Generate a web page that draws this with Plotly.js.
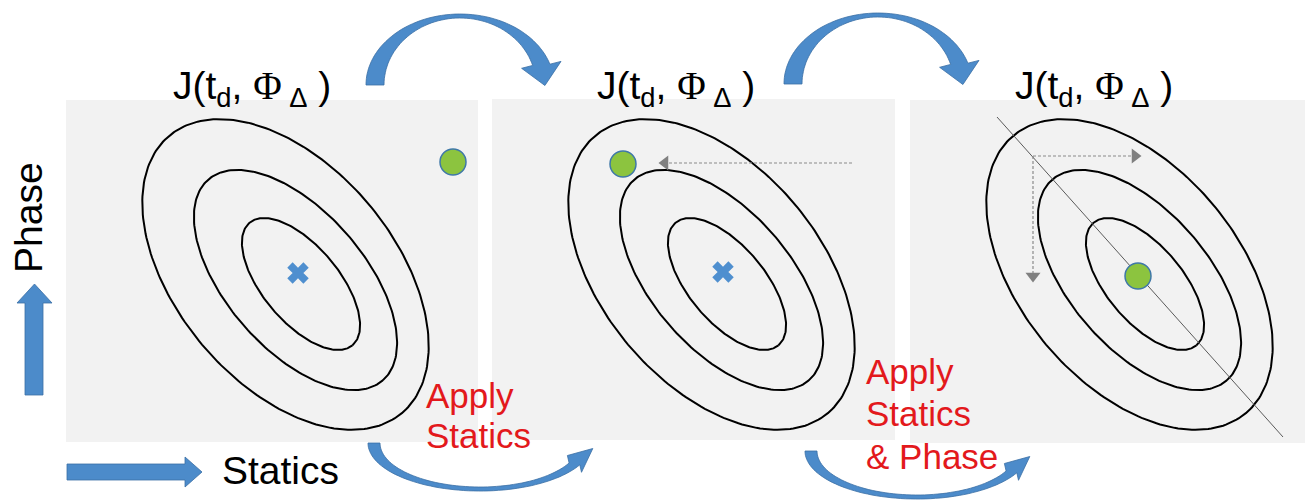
<!DOCTYPE html>
<html>
<head>
<meta charset="utf-8">
<script src="https://cdn.plot.ly/plotly-3.0.1.min.js"></script>
<style>html,body{margin:0;padding:0;background:#fff;}#chart{width:1315px;height:501px;}</style>
</head>
<body>
<div id="chart"></div>
<script>
// ---- diagram content ----
const NB = "\u00A0";
const titleText = "J(t<sub>d</sub>," + NB + "<span style='font-family:Liberation Serif'>Φ</span><sub>" + NB + "Δ</sub>" + NB + ")";
const panelTitles = [titleText, titleText, titleText];
const axisLabels = ["Phase", "Statics"];
const stepLabels1 = ["Apply", "Statics"];
const stepLabels2 = ["Apply", "Statics", "& Phase"];

// contour levels (semi-axes, centres, tilt) inside one panel
const contourA = [181, 133, 80];
const contourB = [109, 69, 38];
const contourCx = [285.5, 295.5, 301];
const contourCy = [274.5, 280, 284];
const contourTilt = [50, 49, 50];
const panelShift = [0, 426, 844];

// optimum marker and current estimate per panel
const optimumX = [298, 723];
const optimumY = [273, 272];
const estimateX = [453, 623, 1138];
const estimateY = [162, 164, 276];

// panels
const panelX0 = [66, 492, 910];
const panelX1 = [478, 895, 1305];
const panelY0 = [100, 99, 100];
const panelY1 = [442, 440, 443];

// ---- build ----
const FONT = "Liberation Sans, Arial, sans-serif";
const BLUE = "#4C8BCA", BLUE_EDGE = "#3A6EA5";
const traces = [];

function ellipse(cx, cy, a, b, deg) {
  const th = deg * Math.PI / 180, xs = [], ys = [];
  for (let k = 0; k <= 240; k++) {
    const t = 2 * Math.PI * k / 240;
    const u = a * Math.cos(t), v = b * Math.sin(t);
    xs.push(cx + u * Math.cos(th) - v * Math.sin(th));
    ys.push(cy + u * Math.sin(th) + v * Math.cos(th));
  }
  return [xs, ys];
}

panelShift.forEach(function (dx) {
  contourA.forEach(function (a, i) {
    const e = ellipse(contourCx[i] + dx, contourCy[i], a, contourB[i], contourTilt[i]);
    traces.push({x: e[0], y: e[1], mode: "lines", line: {color: "#000", width: 2}, hoverinfo: "skip"});
  });
});

// panel 3 valley line
traces.push({x: [997, 1283], y: [117, 437], mode: "lines", line: {color: "#5a5a5a", width: 1}, hoverinfo: "skip"});

// dashed search arrows
const dashStyle = {color: "#8a8a8a", width: 1.2, dash: "3px,2px"};
traces.push({x: [852, 668], y: [163, 163], mode: "lines", line: dashStyle, hoverinfo: "skip"});
traces.push({x: [1033, 1133], y: [156, 156], mode: "lines", line: dashStyle, hoverinfo: "skip"});
traces.push({x: [1033, 1033], y: [156, 273], mode: "lines", line: dashStyle, hoverinfo: "skip"});
traces.push({x: [665], y: [163], mode: "markers", marker: {symbol: "triangle-left", size: 13, color: "#808080"}, hoverinfo: "skip"});
traces.push({x: [1135], y: [156], mode: "markers", marker: {symbol: "triangle-right", size: 13, color: "#808080"}, hoverinfo: "skip"});
traces.push({x: [1033], y: [276], mode: "markers", marker: {symbol: "triangle-down", size: 13, color: "#808080"}, hoverinfo: "skip"});

// optimum crosses
traces.push({x: optimumX, y: optimumY, mode: "markers",
  marker: {symbol: "x", size: 19, color: "#4F8FCF", line: {width: 0}}, hoverinfo: "skip"});
// estimates
traces.push({x: estimateX, y: estimateY, mode: "markers",
  marker: {symbol: "circle", size: 26, color: "#8CC43F", line: {color: "#3F78A8", width: 1.5}}, hoverinfo: "skip"});

// ---- shapes ----
const shapes = [];
panelX0.forEach(function (x0, i) {
  shapes.push({type: "rect", xref: "x", yref: "y", x0: x0, x1: panelX1[i], y0: panelY0[i], y1: panelY1[i],
    fillcolor: "#F2F2F2", line: {width: 0}, layer: "below"});
});

function pt(x, y) { return x.toFixed(1) + "," + y.toFixed(1); }

// curved arrow: arc band + head. sgn=-1 for over-the-top arcs, +1 for under arcs
function curvedArrow(cx, cy, rxo, ryo, rxi, ryi, tEnd, sgn, headLen, headHalf, headDir) {
  const n = 60;
  let p = "";
  for (let k = 0; k <= n; k++) {
    const t = (Math.PI - (Math.PI - tEnd) * k / n);
    p += (k === 0 ? "M" : " L") + pt(cx + rxo * Math.cos(t), cy + sgn * ryo * Math.sin(t));
  }
  const oe = [cx + rxo * Math.cos(tEnd), cy + sgn * ryo * Math.sin(tEnd)];
  const ie = [cx + rxi * Math.cos(tEnd), cy + sgn * ryi * Math.sin(tEnd)];
  const bc = [(oe[0] + ie[0]) / 2, (oe[1] + ie[1]) / 2];
  const d = headDir * Math.PI / 180;
  const dir = [Math.cos(d), Math.sin(d)], per = [-Math.sin(d), Math.cos(d)];
  const w1 = [bc[0] + per[0] * headHalf, bc[1] + per[1] * headHalf];
  const w2 = [bc[0] - per[0] * headHalf, bc[1] - per[1] * headHalf];
  const tip = [bc[0] + dir[0] * headLen, bc[1] + dir[1] * headLen];
  const dO = Math.hypot(w1[0] - oe[0], w1[1] - oe[1]), dO2 = Math.hypot(w2[0] - oe[0], w2[1] - oe[1]);
  const wa = dO < dO2 ? w1 : w2, wb = dO < dO2 ? w2 : w1;
  p += " L" + pt(wa[0], wa[1]) + " L" + pt(tip[0], tip[1]) + " L" + pt(wb[0], wb[1]) + " L" + pt(ie[0], ie[1]);
  for (let k = n; k >= 0; k--) {
    const t = (Math.PI - (Math.PI - tEnd) * k / n);
    p += " L" + pt(cx + rxi * Math.cos(t), cy + sgn * ryi * Math.sin(t));
  }
  return p + " Z";
}
const topArcs = [[460, 85], [878, 84]];
topArcs.forEach(function (c) {
  shapes.push({type: "path", xref: "x", yref: "y", fillcolor: BLUE, line: {color: BLUE_EDGE, width: 0.8},
    path: curvedArrow(c[0], c[1], 94, 71, 76, 67, 17 * Math.PI / 180, -1, 21, 20, 80)});
});
const bottomArcs = [[480, 443], [917, 451]];
bottomArcs.forEach(function (c) {
  shapes.push({type: "path", xref: "x", yref: "y", fillcolor: BLUE, line: {color: BLUE_EDGE, width: 0.8},
    path: curvedArrow(c[0], c[1], 112, 48, 100, 44, 27 * Math.PI / 180, 1, 24, 11, -40)});
});
// straight axis arrows
shapes.push({type: "path", xref: "x", yref: "y", fillcolor: BLUE, line: {color: BLUE_EDGE, width: 0.8},
  path: "M25,395 L25,303 L17,303 L34.5,284 L52,303 L43,303 L43,395 Z"});
shapes.push({type: "path", xref: "x", yref: "y", fillcolor: BLUE, line: {color: BLUE_EDGE, width: 0.8},
  path: "M67,464 L185,464 L185,457 L202,472 L185,487 L185,480 L67,480 Z"});

// ---- annotations ----
const annotations = [];
const titleX = [252, 676, 1094];
panelTitles.forEach(function (t, i) {
  annotations.push({x: titleX[i], y: 88, xref: "x", yref: "y", text: t, showarrow: false,
    xanchor: "center", yanchor: "middle", font: {family: FONT, size: 39, color: "#000"}});
});
annotations.push({x: 28, y: 218, xref: "x", yref: "y", text: axisLabels[0], textangle: -90, showarrow: false,
  xanchor: "center", yanchor: "middle", font: {family: FONT, size: 39, color: "#000"}});
annotations.push({x: 220, y: 470, xref: "x", yref: "y", text: axisLabels[1], showarrow: false,
  xanchor: "left", yanchor: "middle", font: {family: FONT, size: 39, color: "#000"}});
const step1Y = [395, 435];
stepLabels1.forEach(function (t, i) {
  annotations.push({x: 424, y: step1Y[i], xref: "x", yref: "y", text: t, showarrow: false,
    xanchor: "left", yanchor: "middle", font: {family: FONT, size: 35, color: "#E3191C"}});
});
const step2Y = [371, 413, 456];
stepLabels2.forEach(function (t, i) {
  annotations.push({x: 864, y: step2Y[i], xref: "x", yref: "y", text: t, showarrow: false,
    xanchor: "left", yanchor: "middle", font: {family: FONT, size: 35, color: "#E3191C"}});
});

const layout = {
  width: 1315, height: 501, margin: {l: 0, r: 0, t: 0, b: 0},
  paper_bgcolor: "#fff", plot_bgcolor: "#fff", showlegend: false,
  xaxis: {range: [0, 1315], visible: false, fixedrange: true},
  yaxis: {range: [501, 0], visible: false, fixedrange: true},
  shapes: shapes, annotations: annotations
};
Plotly.newPlot("chart", traces, layout, {staticPlot: true, displayModeBar: false});
</script>
</body>
</html>
